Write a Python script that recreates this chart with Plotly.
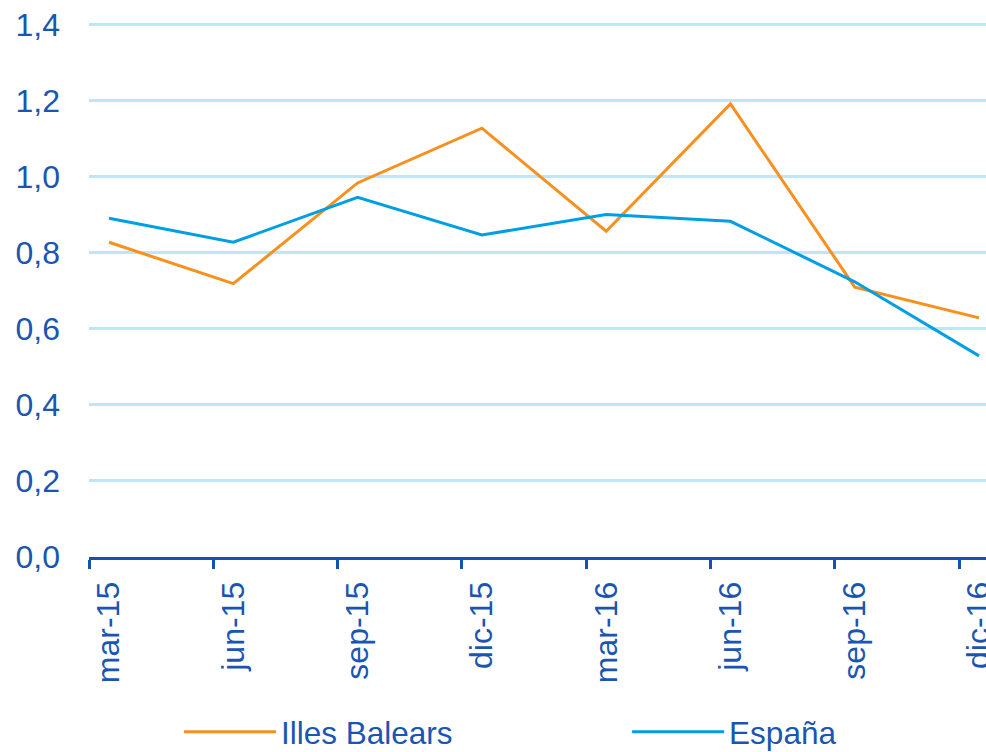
import plotly.graph_objects as go

# trimestres
periodos = ['mar-15', 'jun-15', 'sep-15', 'dic-15', 'mar-16', 'jun-16', 'sep-16', 'dic-16']
illes_balears = [0.828, 0.719, 0.984, 1.128, 0.857, 1.192, 0.710, 0.629]
espana = [0.891, 0.828, 0.946, 0.847, 0.901, 0.883, 0.724, 0.529]
y_ticks = [0.0, 0.2, 0.4, 0.6, 0.8, 1.0, 1.2, 1.4]

AZUL_TEXTO = '#1A56B0'
fuente = 'Arial, Liberation Sans, sans-serif'

x = list(range(len(periodos)))

fig = go.Figure()
fig.add_trace(go.Scatter(x=x, y=illes_balears, name='Illes Balears', mode='lines',
                         line=dict(color='#F7901E', width=3), cliponaxis=False,
                         legend='legend'))
fig.add_trace(go.Scatter(x=x, y=espana, name='España', mode='lines',
                         line=dict(color='#009FE3', width=3), cliponaxis=False,
                         legend='legend2'))

# leyendas en coordenadas del contenedor para que no empujen el margen
leyenda = dict(orientation='h', xanchor='left', yanchor='middle', itemwidth=92,
               xref='container', yref='container',
               font=dict(family=fuente, size=31.5, color=AZUL_TEXTO),
               bgcolor='rgba(0,0,0,0)')

fig.update_layout(
    width=986, height=752,
    margin=dict(l=89, r=0, t=21, b=195),
    paper_bgcolor='white', plot_bgcolor='white',
    font=dict(family=fuente, color=AZUL_TEXTO),
    showlegend=True,
    legend=dict(leyenda, x=0.1815, y=0.027),
    legend2=dict(leyenda, x=0.636, y=0.027),
    xaxis=dict(
        range=[-0.161, 7.056], automargin=False,
        tickvals=x, ticktext=periodos, tickangle=-90,
        ticklabeloverflow='allow',
        ticks='', showgrid=False, zeroline=False,
        showline=True, linecolor='#1452B0', linewidth=3,
        tickfont=dict(size=32, color=AZUL_TEXTO),
        ticklabelstandoff=9,
        minor=dict(tick0=-0.161, dtick=1, ticks='outside', ticklen=9,
                   tickwidth=3, tickcolor='#1452B0', showgrid=False),
    ),
    yaxis=dict(
        range=[0, 1.41], automargin=False, tickvals=y_ticks,
        ticktext=[f'{v:.1f}'.replace('.', ',') for v in y_ticks],
        ticklabeloverflow='allow',
        showgrid=True, gridcolor='#BDE6F7', gridwidth=3,
        zeroline=False, showline=False, ticks='',
        tickfont=dict(size=32, color=AZUL_TEXTO),
        ticklabelstandoff=28,
    ),
)

# sin el margen por defecto del body
fig.write_html('out.html', config={'displayModeBar': False},
               post_script="document.body.style.margin='0';"
                           "document.documentElement.style.overflow='hidden';")
